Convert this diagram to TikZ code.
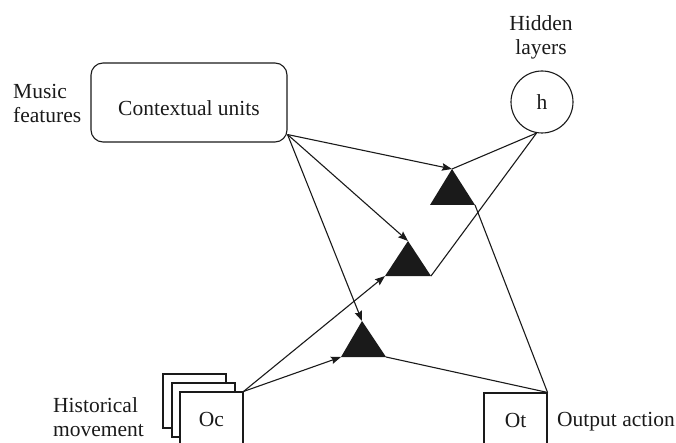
\documentclass[tikz,border=0pt]{standalone}
\usepackage{fontspec}
\setmainfont{Liberation Serif}
\usetikzlibrary{arrows.meta}
\definecolor{ink}{HTML}{1A1A1A}
\begin{document}
\begin{tikzpicture}[x=1pt,y=-1pt,
  txt/.style={font=\fontsize{21.5}{24}\selectfont, text=ink, inner sep=0pt},
  unitbox/.style={txt, draw=ink, line width=1.1pt, rounded corners=12pt,
    minimum width=196pt, minimum height=79pt, text height=26pt, text depth=0pt},
  hiddenunit/.style={txt, circle, draw=ink, line width=1.1pt, minimum size=62pt},
  framebox/.style={txt, draw=ink, fill=white, line width=1.1pt,
    minimum width=63pt, minimum height=54pt},
  wire/.style={draw=ink, line width=1.1pt},
  arr/.style={wire, -{Stealth[length=10pt,width=7.5pt,inset=1.5pt]}},
  gate/.style={fill=ink}]
\clip (0,0) rectangle (676,443);

% inputs, hidden layer and output
\node[unitbox] (cu) at (189,102.5) {Contextual units};
\node[hiddenunit] (h) at (542,102) {h};
\node[framebox] (oc3) at (194.5,401) {};
\node[framebox] (oc2) at (203.5,410) {};
\node[framebox] (oc) at (211.5,419) {Oc};
\node[framebox] (ot) at (515.5,420) {Ot};

% side labels (anchored on the baseline of their last line)
\node[txt, align=left, anchor=base west] (mf) at (13,123) {Music\\features};
\node[txt, align=center, anchor=base] (hl) at (541,55) {Hidden\\layers};
\node[txt, align=left, anchor=base west] (hm) at (53,436) {Historical\\movement};
\node[txt, anchor=base west] (oa) at (557,426) {Output action};

% gating triangles: apex, left and right base corners
\coordinate (g1a) at (452,169); \coordinate (g1l) at (430,205); \coordinate (g1r) at (475,205);
\coordinate (g2a) at (408,241); \coordinate (g2l) at (385,276); \coordinate (g2r) at (431,276);
\coordinate (g3a) at (362,321); \coordinate (g3l) at (341,357); \coordinate (g3r) at (386,357);
\coordinate (cuo) at ([yshift=8pt]cu.south east);

% connections
\draw[arr] (cuo) -- (g1a);
\draw[arr] (cuo) -- (g2a);
\draw[arr] (cuo) -- (g3a);
\draw[arr] (oc.north east) -- (g2l);
\draw[arr] (oc.north east) -- (g3l);
\draw[wire] (h.260) -- (g1a);
\draw[wire] (h.260) -- (g2r);
\draw[wire] (g1r) -- (ot.north east);
\draw[wire] (g3r) -- (ot.north east);

\fill[gate] (g1a) -- (g1l) -- (g1r) -- cycle;
\fill[gate] (g2a) -- (g2l) -- (g2r) -- cycle;
\fill[gate] (g3a) -- (g3l) -- (g3r) -- cycle;
\end{tikzpicture}
\end{document}
